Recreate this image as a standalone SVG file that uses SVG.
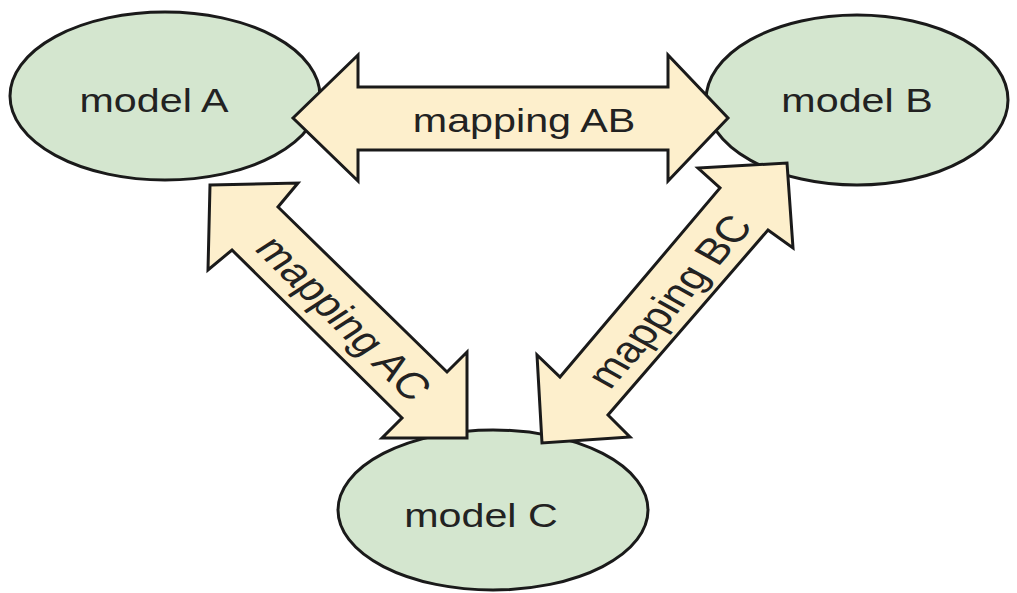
<svg xmlns="http://www.w3.org/2000/svg" width="1017" height="593" viewBox="0 0 1017 593">
<style>
.node{fill:#d4e6cf;stroke:#1a1a1a;stroke-width:3}
.arr{fill:#fdefcc;stroke:#1a1a1a;stroke-width:3;stroke-linejoin:miter}
.t{font-family:"Liberation Sans",Arial,sans-serif;font-size:33px;fill:#222;text-anchor:middle}
.d{font-size:36.5px}
</style>
<rect width="1017" height="593" fill="#fff"/>
<g id="modelA"><ellipse class="node" cx="165" cy="96" rx="155" ry="84"/><text class="t" transform="translate(154,112) scale(1.25,1)">model A</text></g>
<g id="modelB"><ellipse class="node" cx="857" cy="100" rx="151" ry="85"/><text class="t" transform="translate(857,112) scale(1.25,1)">model B</text></g>
<g id="modelC"><ellipse class="node" cx="493" cy="510" rx="155" ry="80"/><text class="t" transform="translate(481,527) scale(1.25,1)">model C</text></g>
<g id="connectors">
<g id="mappingAB"><polygon class="arr" points="293,118 358,55 358,87 668,87 668,55 728,118 668,181 668,150 358,150 358,181"/><text class="t" transform="translate(524,132) scale(1.25,1)">mapping AB</text></g>
<g id="mappingAC"><polygon class="arr" points="210,185 298,183 278,207 447,372 467,352 467,438 382,438 402,418 232,250 208,270"/><text class="t d" dy="0.35em" transform="translate(344,318) scale(1.25,1) rotate(50.9)">mapping AC</text></g>
<g id="mappingBC"><polygon class="arr" points="787,163 793,248 768,230 608,415 630,437 542,443 537,355 560,377 720,188 698,168"/><text class="t d" dy="0.35em" transform="translate(669,301) scale(1.25,1) rotate(-55)">mapping BC</text></g>
</g>
</svg>
